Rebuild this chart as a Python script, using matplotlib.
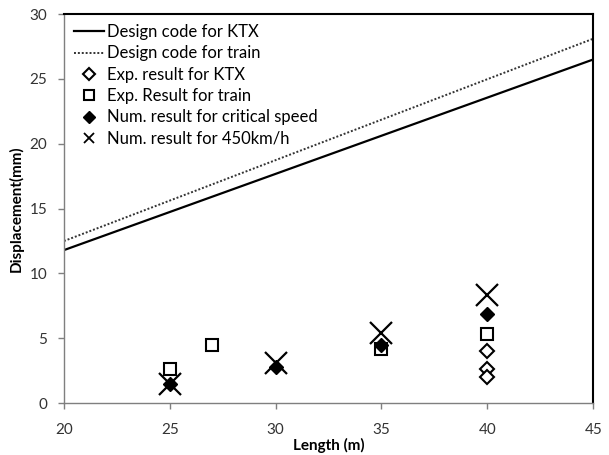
import matplotlib.pyplot as plt

plt.rcParams['font.family'] = ['Lato', 'DejaVu Sans']

# Design code limits (straight lines between the span ends)
design_len = [20, 45]
design_ktx = [11.8, 26.5]
design_train = [12.5, 28.1]

# Experimental results
exp_ktx_len = [40, 40, 40]
exp_ktx_disp = [4.0, 2.6, 2.0]
exp_train_len = [25, 27, 35, 40]
exp_train_disp = [2.6, 4.5, 4.2, 5.3]

# Numerical results
num_crit_len = [25, 30, 35, 40]
num_crit_disp = [1.5, 2.8, 4.5, 6.9]
num_450_len = [25, 30, 35, 40]
num_450_disp = [1.5, 3.1, 5.4, 8.3]

fig = plt.figure(figsize=(6.09, 4.55), dpi=100)
ax = fig.add_axes([0.105, 0.114, 0.869, 0.855])

ax.plot(design_len, design_ktx, color='black', lw=1.6, label='Design code for KTX')
ax.plot(design_len, design_train, color='#333333', lw=1.4, ls=(0, (1, 1)),
        label='Design code for train')
ax.plot(exp_ktx_len, exp_ktx_disp, ls='none', marker='D', ms=7.5, mfc='white',
        mec='black', mew=1.5, label='Exp. result for KTX')
ax.plot(exp_train_len, exp_train_disp, ls='none', marker='s', ms=8.5, mfc='white',
        mec='black', mew=1.5, label='Exp. Result for train')
ax.plot(num_crit_len, num_crit_disp, ls='none', marker='D', ms=7.5, mfc='black',
        mec='black', label='Num. result for critical speed')
ax.plot(num_450_len, num_450_disp, ls='none', marker='x', ms=16, mec='black',
        mew=1.6, label='Num. result for 450km/h')

ax.set_xlim(20, 45)
ax.set_ylim(0, 30)
ax.set_xticks(range(20, 46, 5))
ax.set_yticks(range(0, 31, 5))

for side in ['top', 'right']:
    ax.spines[side].set_color('black')
    ax.spines[side].set_linewidth(1.5)
for side in ['left', 'bottom']:
    ax.spines[side].set_color('#7f7f7f')
    ax.spines[side].set_linewidth(1.0)

ax.tick_params(axis='both', direction='out', length=4, width=1, color='#7f7f7f',
               labelsize=11, labelcolor='#333333', pad=8)
ax.tick_params(axis='x', pad=10)

ax.set_xlabel('Length (m)', fontsize=11, fontweight='bold', labelpad=1)
ax.set_ylabel('Displacement(mm)', fontsize=11, fontweight='bold', labelpad=4)

leg = ax.legend(loc='upper left', frameon=False, fontsize=12, handlelength=1.8,
                handletextpad=0.2, labelspacing=0.32, borderaxespad=0.4,
                borderpad=0.2)
# smaller symbols in the key than on the plot
for handle, size in zip(leg.legend_handles, [None, None, 6, 7, 6, 7]):
    if size is not None:
        handle.set_markersize(size)
leg.legend_handles[5].set_markeredgewidth(1.3)

fig.savefig('out.png', dpi=100)
